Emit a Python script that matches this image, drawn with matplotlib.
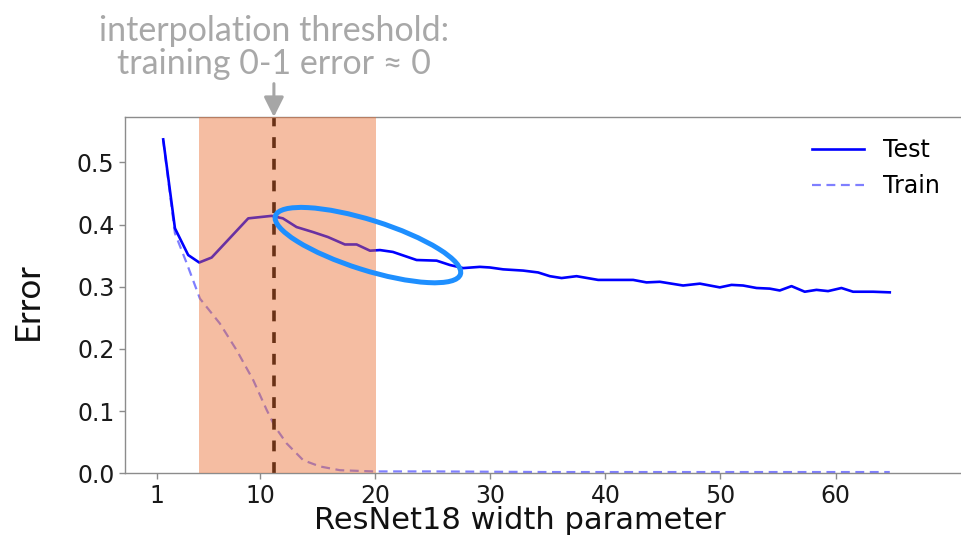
import matplotlib
matplotlib.use("Agg")
import matplotlib.pyplot as plt
from matplotlib.patches import Ellipse
from matplotlib.transforms import ScaledTranslation

# ---------------- data ----------------
test_x = [1.57, 2.59, 3.74, 4.70, 5.78, 8.96, 10.99, 11.97, 13.16, 14.58, 15.88,
          17.36, 18.38, 19.54, 20.41, 21.53, 23.59, 25.33, 26.48, 27.64, 29.09,
          29.96, 31.11, 32.85, 34.15, 35.17, 36.19, 37.49, 39.37, 42.41, 43.57,
          44.73, 46.75, 48.21, 49.94, 50.96, 51.96, 53.13, 54.28, 55.15, 56.17,
          57.32, 58.34, 59.35, 60.51, 61.52, 63.26, 64.71]
test_y = [0.537, 0.394, 0.351, 0.339, 0.347, 0.410, 0.414, 0.410, 0.396, 0.388,
          0.380, 0.368, 0.368, 0.358, 0.359, 0.356, 0.343, 0.342, 0.335, 0.330,
          0.332, 0.331, 0.328, 0.326, 0.323, 0.317, 0.314, 0.317, 0.311, 0.311,
          0.307, 0.308, 0.302, 0.305, 0.299, 0.303, 0.302, 0.298, 0.297, 0.294,
          0.301, 0.292, 0.295, 0.293, 0.298, 0.292, 0.292, 0.291]

train_x = [1.57, 2.59, 3.61, 4.76, 6.49, 7.95, 9.39, 10.56, 11.28, 12.30, 13.74,
           15.19, 16.92, 19.82, 25.0, 35.0, 45.0, 55.0, 64.71]
train_y = [0.535, 0.386, 0.338, 0.281, 0.241, 0.198, 0.150, 0.102, 0.075, 0.048,
           0.021, 0.011, 0.005, 0.003, 0.003, 0.002, 0.002, 0.002, 0.002]

x_ticks = [1, 10, 20, 30, 40, 50, 60]
y_ticks = [0.0, 0.1, 0.2, 0.3, 0.4, 0.5]

critical_lo, critical_hi = 4.67, 20.05
threshold_x = 11.19
ellipse_center = (19.36, 0.367)

# ---------------- figure ----------------
W, H = 961, 545
fig = plt.figure(figsize=(W / 100, H / 100), dpi=100)
ax_left, ax_right, ax_bottom, ax_top = 125, 961, 473.3, 117
ax = fig.add_axes([ax_left / W, 1 - ax_bottom / H,
                   (ax_right - ax_left) / W, (ax_bottom - ax_top) / H])

ax.plot(test_x, test_y, color="#0000ff", lw=1.9, label="Test", zorder=2)
ax.plot(train_x, train_y, color="#0000ff", alpha=0.5, lw=1.6,
        ls=(0, (4, 2.5)), label="Train", zorder=2)
ax.axvline(threshold_x, color="black", lw=2.6, ls=(0, (3, 3)), zorder=2.5)
ax.axvspan(critical_lo, critical_hi, color="#eb6e32", alpha=0.45, lw=0, zorder=3)

ax.set_xlim(-1.75, 70.9)
ax.set_ylim(0, 0.573)
ax.set_xticks(x_ticks)
ax.set_yticks(y_ticks)
ax.set_yticklabels([f"{v:.1f}" for v in y_ticks])

for side in ["left", "bottom", "top"]:
    ax.spines[side].set_color("#8c8c8c")
    ax.spines[side].set_linewidth(1.0)
ax.spines["right"].set_visible(False)
ax.tick_params(colors="#8c8c8c", labelcolor="#1a1a1a", labelsize=17,
               length=4, width=1)

ax.set_xlabel("ResNet18 width parameter", fontsize=22, color="#111111")
ax.xaxis.set_label_coords((520 - ax_left) / (ax_right - ax_left),
                          (ax_bottom - 506) / (ax_bottom - ax_top))
ax.xaxis.label.set_va("top")

ax.set_ylabel("Error", fontsize=25, family=["Lato", "DejaVu Sans"], color="#111111")
ax.yaxis.set_label_coords((28 - ax_left) / (ax_right - ax_left),
                          (ax_bottom - 301) / (ax_bottom - ax_top))
ax.yaxis.label.set_va("center")

leg = ax.legend(loc="upper right", frameon=False, fontsize=17,
                handlelength=2.2, handletextpad=0.8, labelspacing=0.5)

# highlight ellipse
ell = Ellipse((0, 0), 1.94, 0.50, angle=-17.5, fill=False,
              edgecolor="#1e8fff", lw=3.6, zorder=5,
              transform=fig.dpi_scale_trans +
              ScaledTranslation(ellipse_center[0], ellipse_center[1], ax.transData))
ax.add_patch(ell)

# annotation
top = ax.get_ylim()[1]
ax.annotate("", xy=(threshold_x, top), xycoords="data",
            xytext=(0, 24), textcoords="offset points",
            arrowprops=dict(arrowstyle="-|>,head_width=0.3,head_length=0.6",
                            color="#a6a6a6", lw=2.2, shrinkA=0, shrinkB=0,
                            mutation_scale=20),
            annotation_clip=False)
ax.annotate("interpolation threshold:\ntraining 0-1 error \u2248 0",
            xy=(threshold_x, top), xycoords="data",
            xytext=(0, 31), textcoords="offset points",
            ha="center", va="baseline", fontsize=24.5, color="#a8a8a8",
            family=["Lato", "DejaVu Sans"], fontweight="normal",
            linespacing=1.03, annotation_clip=False)

fig.savefig("out.png", dpi=100)
